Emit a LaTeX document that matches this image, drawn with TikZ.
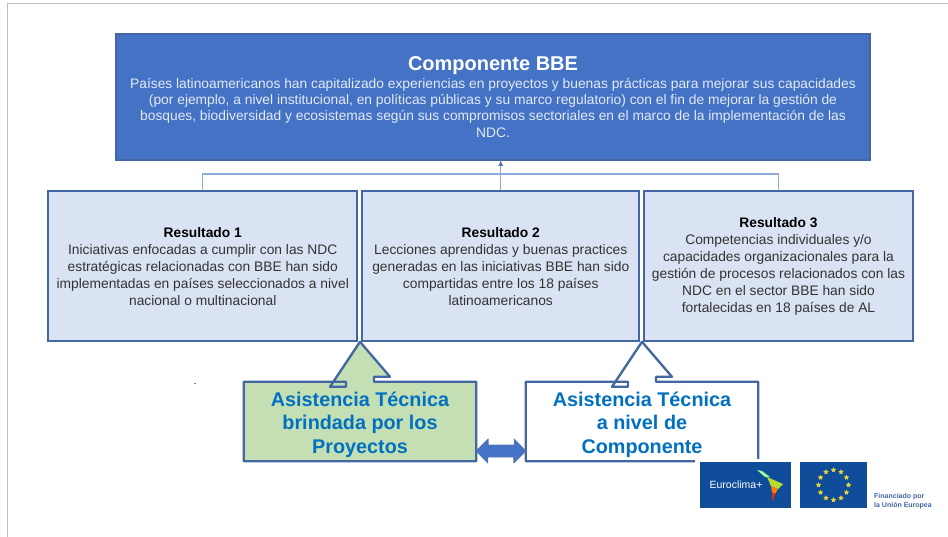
\documentclass[tikz,border=0pt]{standalone}
\usepackage{fontspec}
\usepackage{tikz}
\usetikzlibrary{backgrounds,calc,shapes.geometric}
\setmainfont{Liberation Sans}
\definecolor{bbeblue}{HTML}{4472C4}
\definecolor{bbeline}{HTML}{2F5597}
\definecolor{bbepale}{HTML}{DAE3F3}
\definecolor{bbelink}{HTML}{8FAADC}
\definecolor{bbegreen}{HTML}{C5DFB4}
\definecolor{bbetext}{HTML}{0070C0}
\definecolor{bbelogo}{HTML}{0F4C9A}
\definecolor{bbestar}{HTML}{E6D23C}
\newcommand{\upbox}[2]{
  \begin{scope}[on background layer]
    \draw [line width=2.3pt,draw=bbeline!90,fill=#2,line join=round]
      (#1.north west) -- ([xshift=-14pt]#1.north) -- ++(0,5) -- ++(-16,0)
      -- ([yshift=40pt]#1.north) -- ([xshift=30pt,yshift=5pt]#1.north)
      -- ++(-16,0) -- ([xshift=14pt]#1.north)
      -- (#1.north east) -- (#1.south east) -- (#1.south west) -- cycle;
  \end{scope}
}
\newcommand{\firstline}{\rule{0pt}{21pt}}
\begin{document}
\begin{tikzpicture}[x=1pt,y=-1pt,
  result/.style={draw=bbeline!90,line width=2pt,fill=bbepale,align=center,
    minimum height=150pt,inner sep=0pt,font=\fontsize{13.8}{17.1}\selectfont,text=black!80},
  assist/.style={minimum width=232pt,minimum height=79pt,inner sep=0pt,align=center,
    text=bbetext,font=\fontsize{19.8}{23.5}\selectfont\bfseries},
  link/.style={draw=bbelink,line width=1.2pt}]
  \useasboundingbox (0,0) rectangle (948,537);
  \draw [black!25,line width=1pt] (7.5,537) -- (7.5,3.5) -- (948,3.5);

  \node [draw=bbeline!90,line width=2pt,fill=bbeblue,minimum width=754pt,minimum height=126pt,
    inner sep=0pt,align=center,text=white!85!bbeblue,font=\fontsize{13.8}{16.4}\selectfont] (comp) at (493,97)
    {{\fontsize{20}{24}\selectfont\bfseries\color{white} Componente BBE}\\[1pt]
     Países latinoamericanos han capitalizado experiencias en proyectos y buenas prácticas para mejorar sus capacidades\\
     (por ejemplo, a nivel institucional, en políticas públicas y su marco regulatorio) con el fin de mejorar la gestión de\\
     bosques, biodiversidad y ecosistemas según sus compromisos sectoriales en el marco de la implementación de las\\
     NDC.};

  \node [result,minimum width=309pt] (res1) at (202.75,266.5)
    {{\color{black}\bfseries Resultado 1}\\
     Iniciativas enfocadas a cumplir con las NDC\\
     estratégicas relacionadas con BBE han sido\\
     implementadas en países seleccionados a nivel\\
     nacional o multinacional};
  \node [result,minimum width=277pt] (res2) at (500.75,266.5)
    {{\color{black}\bfseries Resultado 2}\\
     Lecciones aprendidas y buenas practices\\
     generadas en las iniciativas BBE han sido\\
     compartidas entre los 18 países\\
     latinoamericanos};
  \node [result,minimum width=269pt] (res3) at (778.5,266.5)
    {{\color{black}\bfseries Resultado 3}\\
     Competencias individuales y/o\\
     capacidades organizacionales para la\\
     gestión de procesos relacionados con las\\
     NDC en el sector BBE han sido\\
     fortalecidas en 18 países de AL};

  \coordinate (bus) at (res2.north |- 0,174);
  \coordinate (tip) at (res2.north |- comp.south);
  \draw [link] (res1.north) |- (bus);
  \draw [link] (res3.north) |- (bus);
  \draw [link] (res2.north) -- (tip);
  \fill [bbeline!80] (tip) ++(-2.5,5) -- ++(2.5,-5) -- ++(2.5,5) -- cycle;

  \node [assist] (proy) at (360,421.5)
    {\firstline Asistencia Técnica\\brindada por los\\Proyectos};
  \node [assist] (nivel) at (642,421.5)
    {\firstline Asistencia Técnica\\a nivel de\\Componente};
  \upbox{proy}{bbegreen}
  \upbox{nivel}{white}

  % double arrow between the two
  \draw [bbeline!80,line width=0.8pt,fill=bbeblue,line join=round]
    (proy.east |- 0,451) -- ++(12,-12) -- ++(0,6) -- ++(26,0) -- ++(0,-6)
    -- (nivel.west |- 0,451) -- ++(-12,12) -- ++(0,-6) -- ++(-26,0) -- ++(0,6) -- cycle;

  \fill [black!50] (193.5,382.5) rectangle (196,383.5);

  % logos
  \begin{scope}[on background layer]
    \fill [white] (695,459) rectangle (795,512);
  \end{scope}
  \fill [bbelogo] (700,462) rectangle (791,508);
  \node [text=white,inner sep=0pt,font=\fontsize{10.5}{12}\selectfont] (euro) at (736,484.5) {Euroclima+};
  \fill [white!60!green] (757,470) -- (762,471) -- (770,477) -- (765,477) -- cycle;
  \fill [bbestar!80!green] (767,477) -- (783,484) -- (778,489) -- (771,486) -- cycle;
  \fill [orange] (771,486) -- (778,489) -- (775,494) -- (772,492) -- cycle;
  \fill [red!70!orange] (772,492) -- (775,494) -- (773,500) -- (772,500) -- cycle;

  \fill [bbelogo] (800,462) rectangle (867,508);
  \foreach \a in {0,30,...,330}
    \node [star,star points=5,star point ratio=1.9,fill=bbestar,inner sep=0pt,minimum size=5.5pt]
      at ($(833.5,485)+(\a:15)$) {};
  \node [anchor=north west,inner sep=0pt,align=left,text=bbeline!90,
    font=\fontsize{7}{8.8}\selectfont\bfseries] (fin) at (874,493) {Financiado por\\la Unión Europea};
\end{tikzpicture}
\end{document}
